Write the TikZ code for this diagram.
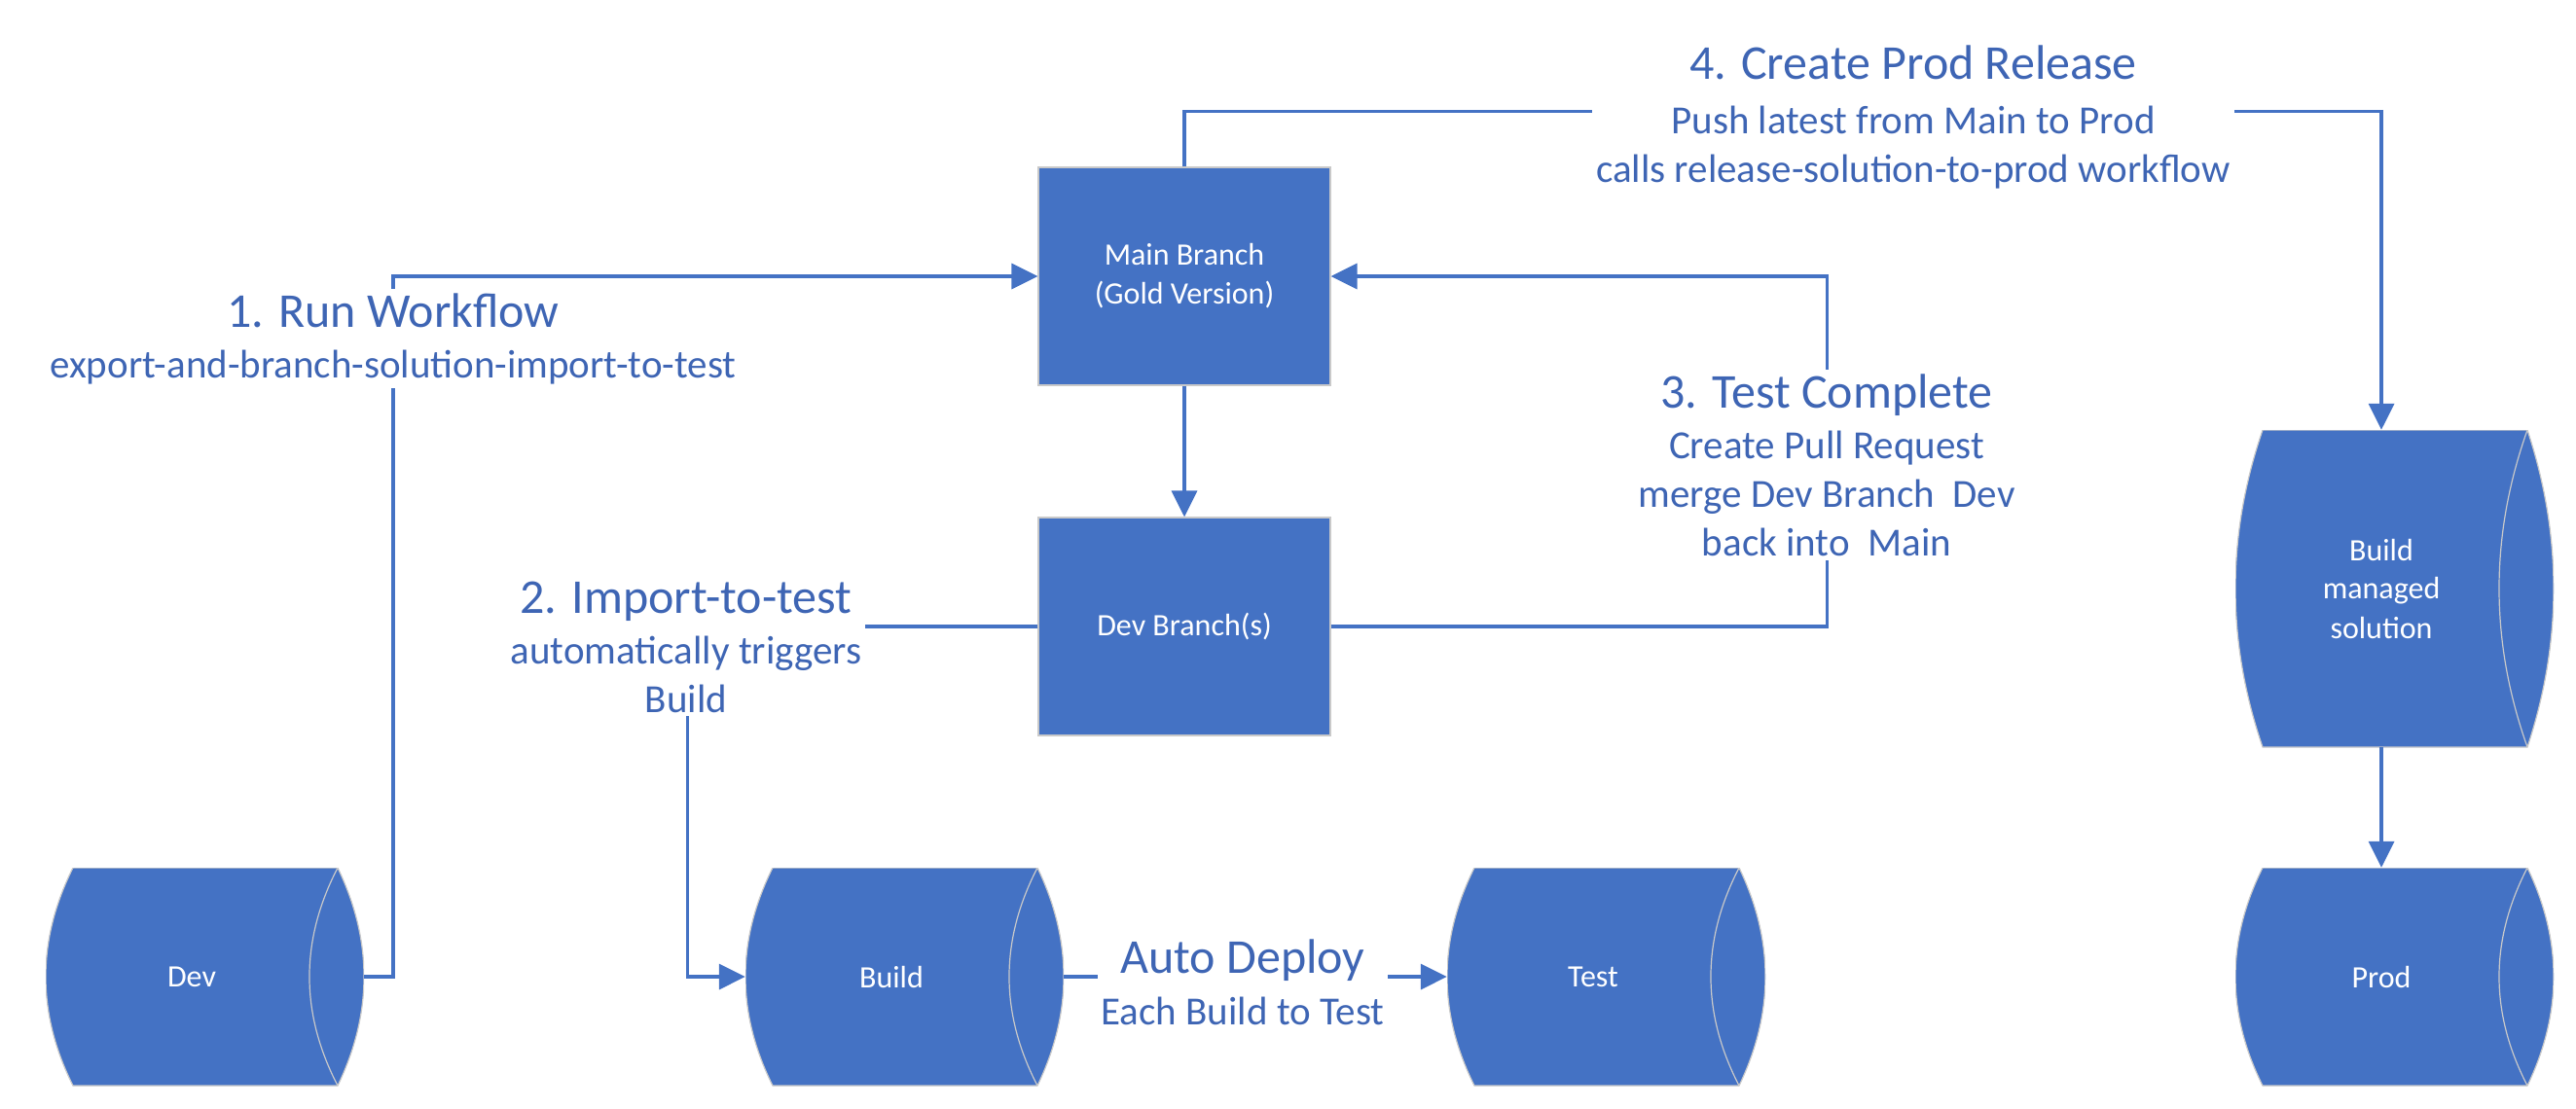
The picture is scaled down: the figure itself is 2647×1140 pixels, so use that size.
\documentclass[tikz,border=0pt]{standalone}
\usepackage{fontspec}
\setmainfont{Carlito}
\usetikzlibrary{arrows.meta,calc}
\definecolor{mainblue}{HTML}{4472C4}
\definecolor{lineblue}{HTML}{4472C4}
\definecolor{textblue}{RGB}{62,101,180}
\definecolor{edgegrey}{HTML}{C9C9C9}
\newcommand\lblhead[1]{{\fontsize{50}{50}\selectfont #1}}
\tikzset{
  box/.style={rectangle, fill=mainblue, draw=edgegrey, line width=1.2pt,
    minimum width=300pt, minimum height=224pt, inner sep=0pt, text=white,
    align=center, font=\fontsize{32}{40}\selectfont},
  cyl/.style={rectangle, fill=white, minimum width=327pt, minimum height=#1, inner sep=0pt,
    path picture={
      \path[fill=mainblue, draw=edgegrey, line width=1.2pt]
        let \p1=(path picture bounding box.south west),
            \p2=(path picture bounding box.north east),
            \n1={(\y2-\y1)/3} in
        (\x1+28pt,\y2) -- (\x2-27pt,\y2)
        .. controls (\x2+9pt,\y2-\n1) and (\x2+9pt,\y1+\n1) .. (\x2-27pt,\y1)
        -- (\x1+28pt,\y1)
        .. controls (\x1-9.33pt,\y1+\n1) and (\x1-9.33pt,\y2-\n1) .. cycle;
      \draw[edgegrey, line width=1.2pt]
        let \p1=(path picture bounding box.south west),
            \p2=(path picture bounding box.north east),
            \n1={(\y2-\y1)/3} in
        (\x2-27pt,\y2)
        .. controls (\x2-65.7pt,\y2-\n1) and (\x2-65.7pt,\y1+\n1) .. (\x2-27pt,\y1);
    }},
  cyl/.default=224pt,
  cyltext/.style={text=white, align=center, font=\fontsize{32}{40}\selectfont, xshift=-13.5pt},
  conn/.style={draw=lineblue, line width=3.5pt},
  arr/.style={conn, -{Triangle[length=27pt,width=26pt]}},
  lbl/.style={fill=white, text=textblue, align=center, inner sep=4pt,
    font=\fontsize{41}{50}\selectfont},
}
\begin{document}
\begin{tikzpicture}[x=1pt,y=-1pt]
\useasboundingbox (0,0) rectangle (2647,1140);

% boxes
\node[box] (main) at (1217,284) {Main Branch\\(Gold Version)};
\node[box] (devb) at (1217,644) {Dev Branch(s)};

% cylinders
\node[cyl, label={[cyltext]center:Dev}] (dev) at (210.5,1004) {};
\node[cyl, label={[cyltext]center:Build}] (build) at (929.5,1004) {};
\node[cyl, label={[cyltext]center:Test}] (test) at (1650.5,1004) {};
\node[cyl, label={[cyltext]center:Prod}] (prod) at (2460.5,1004) {};
\node[cyl=326pt, label={[cyltext]center:Build\\managed\\solution}] (bms) at (2460.5,605) {};

% connectors
\draw[arr] (dev.east) -- ++(30,0) |- (main.west);
\draw[arr] (main.south) -- (devb.north);
\draw[arr] (devb.west) -- ++(-360,0) |- (build.west);
\draw[arr] (devb.east) -- ++(510,0) |- (main.east);
\draw[arr] (main.north) -- ++(0,-57) -| ([xshift=-13.5pt]bms.north);
\draw[arr] ([xshift=-13.5pt]bms.south) -- ([xshift=-13.5pt]prod.north);
\draw[arr] (build.east) -- (test.west);

% labels
\node[lbl] (l1) at (404,348) {\lblhead{1. Run Workflow}\\[2pt]export-and-branch-solution-import-to-test};
\node[lbl] (l2) at (705,665) {\lblhead{2. Import-to-test}\\[2pt]automatically triggers\\Build};
\node[lbl] (l3) at (1877,478) {\lblhead{3. Test Complete}\\[2pt]Create Pull Request\\merge Dev Branch\ \ Dev\\back into\ \ Main};
\node[lbl] (l4) at (1966,120) {\lblhead{4. Create Prod Release}\\[6pt]Push latest from Main to Prod\\calls release-solution-to-prod workflow};
\node[lbl] (l5) at (1277,1010) {\lblhead{Auto Deploy}\\[3pt]Each Build to Test};
\end{tikzpicture}
\end{document}
